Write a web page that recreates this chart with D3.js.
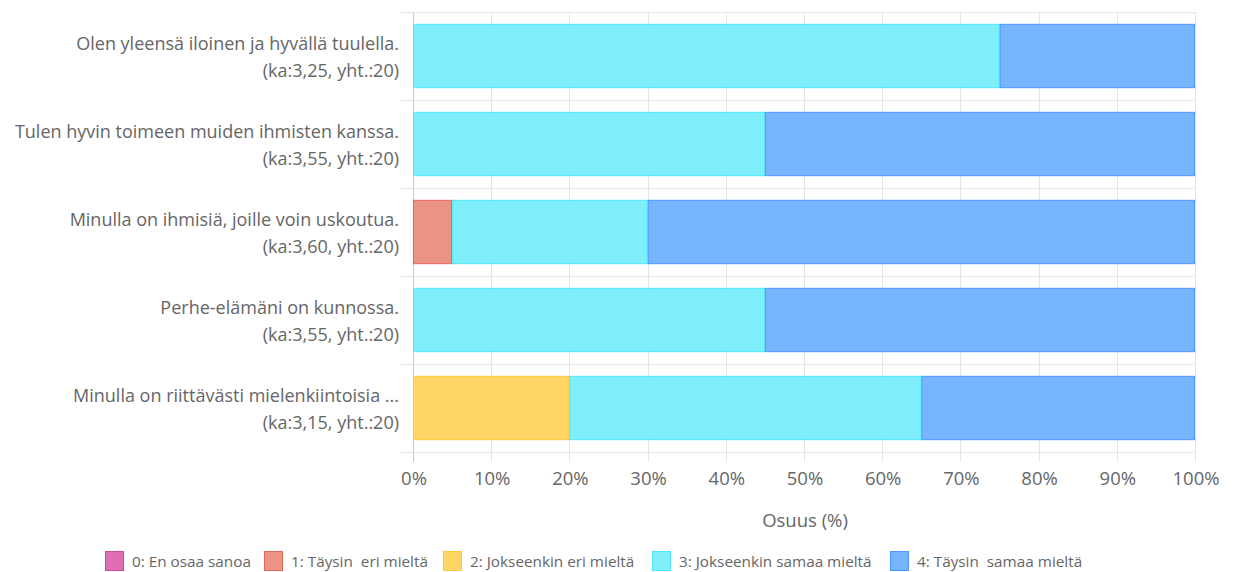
<!DOCTYPE html>
<html>
<head>
<meta charset="utf-8">
<script src="https://cdn.jsdelivr.net/npm/d3@7"></script>
<style>
  html, body { margin: 0; padding: 0; background: #fff; }
  svg { display: block; font-family: "Open Sans", "Noto Sans", sans-serif; }
  text { white-space: pre; }
</style>
</head>
<body>
<svg id="chart" width="1235" height="572"></svg>
<script>
// Questions (two-line labels) and answer shares in percent
const questions = [
  "Olen yleensä iloinen ja hyvällä tuulella.",
  "Tulen hyvin toimeen muiden ihmisten kanssa.",
  "Minulla on ihmisiä, joille voin uskoutua.",
  "Perhe-elämäni on kunnossa.",
  "Minulla on riittävästi mielenkiintoisia ..."
];
const summaries = [
  "(ka:3,25, yht.:20)",
  "(ka:3,55, yht.:20)",
  "(ka:3,60, yht.:20)",
  "(ka:3,55, yht.:20)",
  "(ka:3,15, yht.:20)"
];
const seriesNames = [
  "0: En osaa sanoa",
  "1: Täysin  eri mieltä",
  "2: Jokseenkin eri mieltä",
  "3: Jokseenkin samaa mieltä",
  "4: Täysin  samaa mieltä"
];
const s0 = [0, 0, 0, 0, 0];
const s1 = [0, 0, 5, 0, 0];
const s2 = [0, 0, 0, 0, 20];
const s3 = [75, 45, 25, 45, 45];
const s4 = [25, 55, 70, 55, 35];
const xTicks = [0, 10, 20, 30, 40, 50, 60, 70, 80, 90, 100];

(function () {
  const fills   = ["#df6fb4", "#ec9384", "#ffd666", "#80effc", "#75b4ff"];
  const borders = ["#d04a9c", "#e0685a", "#ffc93c", "#4fe6fb", "#4a98ff"];

  const svg = d3.select("#chart");
  const pLeft = 413, pRight = 1195, pTop = 12, pBottom = 452;

  const x = d3.scaleLinear().domain([0, 100]).range([pLeft, pRight]);
  const y = d3.scaleBand().domain(d3.range(questions.length)).range([pTop, pBottom]);
  const barH = y.bandwidth() * 0.72;

  const series = [s0, s1, s2, s3, s4];
  const rows = questions.map((q, i) => {
    const o = { i };
    series.forEach((s, k) => o["k" + k] = s[i]);
    return o;
  });
  const stack = d3.stack().keys(series.map((s, k) => "k" + k))(rows);

  // Grid
  const grid = svg.append("g");
  xTicks.forEach(t => {
    grid.append("line")
      .attr("x1", Math.round(x(t)) + 0.5).attr("x2", Math.round(x(t)) + 0.5)
      .attr("y1", pTop).attr("y2", pBottom + 10)
      .attr("stroke", t === 0 ? "#c8c8c8" : "#e6e6e6").attr("stroke-width", 1);
  });
  d3.range(questions.length + 1).forEach(j => {
    const yy = j < questions.length ? y(j) : pBottom;
    grid.append("line")
      .attr("x1", pLeft - 12).attr("x2", pRight)
      .attr("y1", Math.round(yy) + 0.5).attr("y2", Math.round(yy) + 0.5)
      .attr("stroke", "#e6e6e6").attr("stroke-width", 1);
  });

  // Bars
  stack.forEach((layer, k) => {
    svg.append("g").selectAll("rect")
      .data(layer.filter(d => d[1] - d[0] > 0))
      .join("rect")
      .attr("x", d => x(d[0]) + 0.5)
      .attr("width", d => x(d[1]) - x(d[0]) - 1)
      .attr("y", d => y(d.data.i) + (y.bandwidth() - barH) / 2)
      .attr("height", barH)
      .attr("fill", fills[k])
      .attr("stroke", borders[k])
      .attr("stroke-width", 1);
  });

  // Category labels
  const labels = svg.append("g").attr("fill", "#666").attr("font-size", 18).attr("text-anchor", "end");
  questions.forEach((q, i) => {
    const cy = y(i) + y.bandwidth() / 2;
    labels.append("text").attr("x", 399).attr("y", cy - 6.5).text(q);
    labels.append("text").attr("x", 399).attr("y", cy + 20.5).text(summaries[i]);
  });

  // X axis tick labels and title
  const xt = svg.append("g").attr("fill", "#666").attr("font-size", 18.5).attr("text-anchor", "middle");
  xTicks.forEach(t => {
    xt.append("text").attr("x", x(t) + 1).attr("y", 485).text(t + "%");
  });
  svg.append("text").attr("x", 805).attr("y", 526.5)
    .attr("text-anchor", "middle").attr("fill", "#666").attr("font-size", 18.5).text("Osuus (%)");

  // Legend
  const legendX = [105, 264, 443, 652, 890];
  const lg = svg.append("g");
  seriesNames.forEach((n, k) => {
    lg.append("rect").attr("x", legendX[k] + 0.5).attr("y", 551.5).attr("width", 18).attr("height", 19)
      .attr("fill", fills[k]).attr("stroke", borders[k]).attr("stroke-width", 1);
    lg.append("text").attr("x", legendX[k] + 27).attr("y", 566.5)
      .attr("fill", "#666").attr("font-size", 15.3).text(n);
  });
})();
</script>
</body>
</html>
